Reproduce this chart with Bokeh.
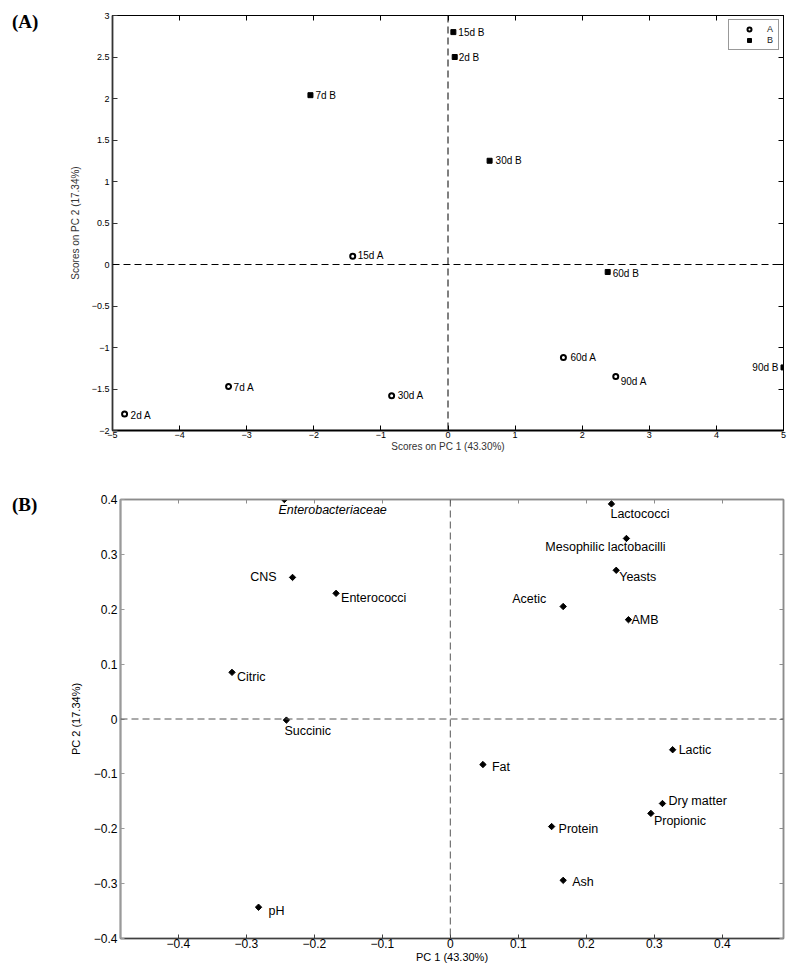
from bokeh.plotting import figure
from bokeh.models import (ColumnDataSource, Span, Legend, LegendItem, LinearAxis, Div,
                          FixedTicker, Range1d, CustomJSTickFormatter)
from bokeh.layouts import column, row
from bokeh.embed import file_html
from bokeh.resources import INLINE
from bokeh.core.properties import value

# ---------------- data: panel A (scores) ----------------
a_labels = ["2d A", "7d A", "15d A", "30d A", "60d A", "90d A"]
a_pc1 = [-4.82, -3.27, -1.42, -0.84, 1.72, 2.50]
a_pc2 = [-1.80, -1.47, 0.10, -1.58, -1.12, -1.35]

b_labels = ["2d B", "7d B", "15d B", "30d B", "60d B", "90d B"]
b_pc1 = [0.10, -2.05, 0.08, 0.62, 2.38, 5.00]
b_pc2 = [2.50, 2.04, 2.80, 1.25, -0.09, -1.24]

a_xticks = [-5, -4, -3, -2, -1, 0, 1, 2, 3, 4, 5]
a_yticks = [-2, -1.5, -1, -0.5, 0, 0.5, 1, 1.5, 2, 2.5, 3]

# ---------------- data: panel B (loadings) ----------------
var_names = ["Enterobacteriaceae", "CNS", "Enterococci", "Citric", "Succinic", "pH",
             "Lactococci", "Mesophilic lactobacilli", "Yeasts", "Acetic", "AMB",
             "Lactic", "Fat", "Dry matter", "Propionic", "Protein", "Ash"]
load_pc1 = [-0.244, -0.232, -0.168, -0.321, -0.241, -0.282,
            0.237, 0.259, 0.244, 0.166, 0.262,
            0.327, 0.048, 0.312, 0.295, 0.149, 0.166]
load_pc2 = [0.400, 0.258, 0.229, 0.085, -0.002, -0.343,
            0.392, 0.329, 0.271, 0.205, 0.181,
            -0.056, -0.083, -0.154, -0.172, -0.196, -0.294]

b_xticks = [-0.4, -0.3, -0.2, -0.1, 0, 0.1, 0.2, 0.3, 0.4]
b_yticks = [-0.4, -0.3, -0.2, -0.1, 0, 0.1, 0.2, 0.3, 0.4]

# ---------------- label styling (screen offsets, alignment) ----------------
a_label_style = {"2d A": (6, 2, "left"), "7d A": (5, 1, "left"), "15d A": (5, -1, "left"),
                 "30d A": (6, 0, "left"), "60d A": (7, 0, "left"), "90d A": (5, 5, "left")}
b_label_style = {"2d B": (4, 0, "left"), "7d B": (5, 0, "left"), "15d B": (5, 0, "left"),
                 "30d B": (6, 0, "left"), "60d B": (5, 2, "left"), "90d B": (-5, 0, "right")}
var_label_style = {
    "Enterobacteriaceae": (-6, 10, "left", "italic"),
    "CNS": (-16, 0, "right", "normal"),
    "Enterococci": (5, 5, "left", "normal"),
    "Citric": (5, 5, "left", "normal"),
    "Succinic": (-2, 11, "left", "normal"),
    "pH": (10, 4, "left", "normal"),
    "Lactococci": (-1, 10, "left", "normal"),
    "Mesophilic lactobacilli": (-21, 9, "center", "normal"),
    "Yeasts": (3, 7, "left", "normal"),
    "Acetic": (-17, -8, "right", "normal"),
    "AMB": (3, 0, "left", "normal"),
    "Lactic": (6, 0, "left", "normal"),
    "Fat": (9, 2, "left", "normal"),
    "Dry matter": (6, -3, "left", "normal"),
    "Propionic": (3, 8, "left", "normal"),
    "Protein": (7, 2, "left", "normal"),
    "Ash": (9, 2, "left", "normal"),
}

FONT = "Liberation Sans"
fmt = CustomJSTickFormatter(code="return (Math.round(tick*10)/10).toString().replace('-', '\\u2212');")


def style_axes(p, xticks, yticks, tick_font, tick_in, colors, widths):
    p.xgrid.visible = False
    p.ygrid.visible = False
    xa, ya = p.below[0], p.left[0]
    for ax, ticks in ((xa, xticks), (ya, yticks)):
        ax.ticker = FixedTicker(ticks=ticks)
        ax.formatter = fmt
        ax.major_tick_in = tick_in
        ax.major_tick_out = 0
        ax.minor_tick_line_color = None
        ax.major_label_text_font = FONT
        ax.major_label_text_font_size = tick_font
        ax.major_label_text_color = "black"
        ax.axis_label_text_font = FONT
        ax.axis_label_text_font_style = "normal"
    xa.axis_line_color = colors["bottom"]
    xa.axis_line_width = widths["bottom"]
    xa.major_tick_line_color = colors["bottom"]
    ya.axis_line_color = colors["left"]
    ya.axis_line_width = widths["left"]
    ya.major_tick_line_color = colors["left"]
    # top & right: ticks only, labels not drawn (box style)
    common = dict(major_label_text_font_size="1px", major_label_text_color=None,
                  major_label_standoff=0, major_tick_in=tick_in, major_tick_out=0,
                  minor_tick_line_color=None)
    top = LinearAxis(ticker=FixedTicker(ticks=xticks), axis_line_color=colors["top"],
                     axis_line_width=widths["top"], major_tick_line_color=colors["top"], **common)
    right = LinearAxis(ticker=FixedTicker(ticks=yticks), axis_line_color=colors["right"],
                       axis_line_width=widths["right"], major_tick_line_color=colors["right"], **common)
    p.add_layout(top, "above")
    p.add_layout(right, "right")
    return xa, ya


def add_text(p, names, xs, ys, style, size, font_style_default="normal"):
    groups = {}
    for n, x, y in zip(names, xs, ys):
        st = style[n]
        dx, dy, align = st[0], st[1], st[2]
        fs = st[3] if len(st) > 3 else font_style_default
        g = groups.setdefault((align, fs), dict(x=[], y=[], t=[], dx=[], dy=[]))
        g["x"].append(x); g["y"].append(y); g["t"].append(n)
        g["dx"].append(dx); g["dy"].append(dy)
    for (align, fs), g in groups.items():
        p.text(x="x", y="y", text="t", x_offset="dx", y_offset="dy",
               source=ColumnDataSource(g), text_font=value(FONT),
               text_font_size=value(size), text_font_style=fs,
               text_align=align, text_baseline="middle", text_color="black")


def panel_tag(txt, width, height, pad_top):
    return Div(text=txt, width=width, height=height, margin=0,
               styles={"font-family": "Liberation Serif", "font-size": "19px",
                       "font-weight": "bold", "padding-left": "12px",
                       "padding-top": f"{pad_top}px", "line-height": "23px",
                       "color": "black"})


# ================= Panel A =================
pA = figure(width=741, height=460, x_range=Range1d(-5, 5), y_range=Range1d(-2, 3),
            output_backend="svg", toolbar_location=None,
            min_border_left=64, min_border_right=6, min_border_top=15, min_border_bottom=30)
pA.outline_line_color = "black"
pA.outline_line_width = 1
xaA, yaA = style_axes(pA, a_xticks, a_yticks, "9px", 5,
                      {"bottom": "black", "left": "#333333", "top": "black", "right": "black"},
                      {"bottom": 1.8, "left": 1.8, "top": 1, "right": 1})
xaA.axis_label = "Scores on PC 1 (43.30%)"
yaA.axis_label = "Scores on PC 2 (17.34%)"
for ax in (xaA, yaA):
    ax.axis_label_text_font_size = "10px"
    ax.axis_label_text_color = "#333333"
    ax.major_label_standoff = 3
xaA.major_label_standoff = 1
xaA.axis_label_standoff = 0
yaA.axis_label_standoff = 8

pA.add_layout(Span(location=0, dimension="width", line_color="black", line_width=1, line_dash="7 4"))
pA.add_layout(Span(location=0, dimension="height", line_color="black", line_width=1, line_dash="7 4"))

rA = pA.scatter(a_pc1, a_pc2, marker="circle", size=5, fill_color="white",
                line_color="black", line_width=2)
rB = pA.scatter(b_pc1, b_pc2, marker="square", size=5, fill_color="black",
                line_color="black", line_width=1)
add_text(pA, a_labels, a_pc1, a_pc2, a_label_style, "10px")
add_text(pA, b_labels, b_pc1, b_pc2, b_label_style, "10px")

legend = Legend(items=[LegendItem(label="A", renderers=[rA]), LegendItem(label="B", renderers=[rB])],
                location="top_right", margin=4, padding=4, spacing=1,
                glyph_width=32, glyph_height=10, label_height=10, label_width=7,
                label_standoff=2, label_text_font=FONT, label_text_font_size="9px",
                label_text_color="#222222",
                border_line_color="#333333", border_line_width=1, background_fill_alpha=1)
pA.add_layout(legend)

# ================= Panel B =================
pB = figure(width=733, height=508, x_range=Range1d(-0.485, 0.49), y_range=Range1d(-0.4, 0.4),
            output_backend="svg", toolbar_location=None,
            min_border_left=64, min_border_right=6, min_border_top=39, min_border_bottom=30)
pB.outline_line_color = "#8c8c8c"
pB.outline_line_width = 1.5
xaB, yaB = style_axes(pB, b_xticks, b_yticks, "12px", 4,
                      {"bottom": "#404040", "left": "#9a9a9a", "top": "#8c8c8c", "right": "#8c8c8c"},
                      {"bottom": 1.5, "left": 2, "top": 1.5, "right": 1.5})
xaB.axis_label = "PC 1 (43.30%)"
yaB.axis_label = "PC 2 (17.34%)"
for ax in (xaB, yaB):
    ax.axis_label_text_font_size = "11px"
    ax.axis_label_text_color = "black"
    ax.major_label_standoff = 3
xaB.major_label_standoff = 0
xaB.axis_label_standoff = 0
yaB.axis_label_standoff = 9

pB.add_layout(Span(location=0, dimension="width", line_color="#555555", line_width=1, line_dash="7 4"))
pB.add_layout(Span(location=0, dimension="height", line_color="#555555", line_width=1, line_dash="7 4"))

pB.scatter(load_pc1, load_pc2, marker="square", angle=0.785398, size=4.5,
           fill_color="black", line_color="black", line_width=1)
add_text(pB, var_names, load_pc1, load_pc2, var_label_style, "12.5px")

tagA = panel_tag("(A)", 48, 40, 10)
tagB = panel_tag("(B)", 56, 70, 33)

layout = column(row(tagA, pA), row(tagB, pB))
open("out.html", "w").write(file_html(layout, INLINE))
